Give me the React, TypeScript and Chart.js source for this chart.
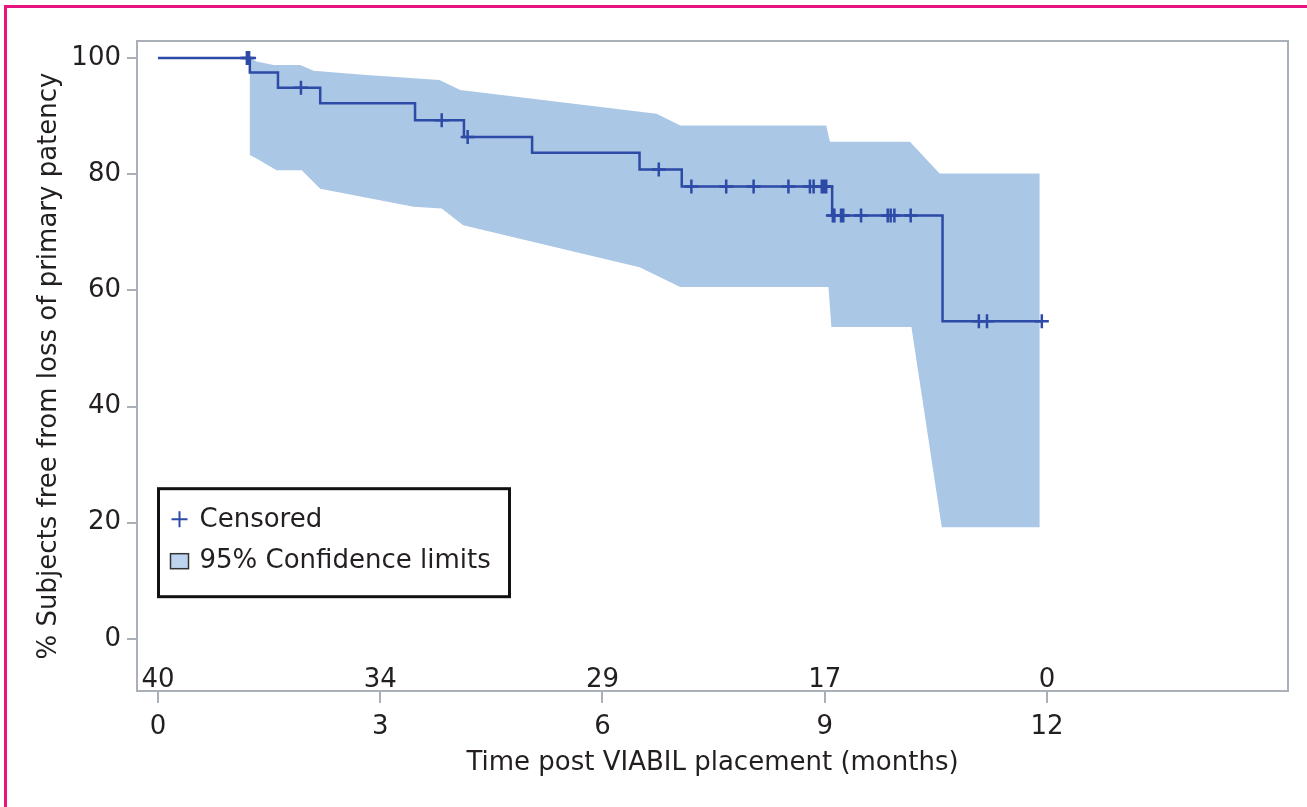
import { useEffect, useRef } from 'react';
import { Chart, registerables } from 'chart.js';

Chart.register(...registerables);

// Kaplan-Meier step curve (time in months, % free from loss of primary patency)
const stepTimes = [0, 1.24, 1.62, 2.19, 3.47, 4.13, 5.05, 6.5, 7.07, 9.1, 10.59, 11.93];
const stepValues = [100, 97.5, 94.9, 92.2, 89.3, 86.4, 83.7, 80.8, 77.9, 72.9, 54.7, 54.7];

// Censored observations
const censorTimes = [1.2, 1.23, 1.93, 3.83, 4.18, 6.76, 7.2, 7.67, 8.04, 8.51, 8.8, 8.85, 8.96, 8.99, 9.02, 9.11, 9.13, 9.22, 9.25, 9.49, 9.85, 9.89, 9.94, 10.16, 11.08, 11.19, 11.93];
const censorValues = [100, 100, 94.9, 89.3, 86.4, 80.8, 77.9, 77.9, 77.9, 77.9, 77.9, 77.9, 77.9, 77.9, 77.9, 72.9, 72.9, 72.9, 72.9, 72.9, 72.9, 72.9, 72.9, 72.9, 54.7, 54.7, 54.7];

// 95% confidence limits
const upperTimes = [1.24, 1.33, 1.56, 1.92, 2.1, 2.77, 3.8, 4.08, 6.73, 7.05, 9.02, 9.07, 10.15, 10.55, 11.9];
const upperValues = [100, 99.4, 98.8, 98.8, 97.8, 97.1, 96.2, 94.5, 90.4, 88.4, 88.4, 85.6, 85.6, 80.1, 80.1];
const lowerTimes = [1.24, 1.33, 1.6, 1.94, 2.19, 3.45, 3.83, 4.12, 6.5, 7.05, 9.05, 9.09, 10.17, 10.58, 11.9];
const lowerValues = [83.3, 82.7, 80.7, 80.7, 77.5, 74.4, 74.1, 71.2, 64.0, 60.6, 60.6, 53.7, 53.7, 19.2, 19.2];

// Numbers at risk
const riskTimes = [0, 3, 6, 9, 12];
const riskCounts = [40, 34, 29, 17, 0];

// Axis ticks
const xTicks = [0, 3, 6, 9, 12];
const yTicks = [0, 20, 40, 60, 80, 100];

const FONT = '"DejaVu Sans", "Liberation Sans", Arial, sans-serif';
const TEXT = '#231f20';
const LINE = '#2c4aa6';
const BAND = '#abc7e6';
const FRAME = '#a9b0b7';

const framePlugin = {
  id: 'frame',
  afterDraw(chart: any) {
    const { ctx, chartArea: a } = chart;
    ctx.save();
    ctx.strokeStyle = FRAME;
    ctx.lineWidth = 2;
    ctx.strokeRect(a.left, a.top, a.right - a.left, a.bottom - a.top);
    ctx.restore();
  },
};

const riskPlugin = {
  id: 'atRisk',
  afterDraw(chart: any) {
    const { ctx, chartArea: a, scales } = chart;
    ctx.save();
    ctx.font = `26px ${FONT}`;
    ctx.fillStyle = TEXT;
    ctx.textAlign = 'center';
    ctx.textBaseline = 'alphabetic';
    riskTimes.forEach((t, i) => {
      ctx.fillText(String(riskCounts[i]), scales.x.getPixelForValue(t), a.bottom - 4);
    });
    ctx.restore();
  },
};

const legendPlugin = {
  id: 'kmLegend',
  afterDraw(chart: any) {
    const { ctx, chartArea: a } = chart;
    const x0 = a.left + 21.5;
    const y0 = a.bottom - 202.3;
    ctx.save();
    ctx.strokeStyle = '#111';
    ctx.lineWidth = 3;
    ctx.strokeRect(x0, y0, 351, 108);
    // censored symbol
    ctx.strokeStyle = LINE;
    ctx.lineWidth = 2;
    const cx = x0 + 21, cy = y0 + 30.5;
    ctx.beginPath();
    ctx.moveTo(cx - 8, cy);
    ctx.lineTo(cx + 8, cy);
    ctx.moveTo(cx, cy - 8);
    ctx.lineTo(cx, cy + 8);
    ctx.stroke();
    // band symbol
    ctx.fillStyle = '#bcd4ee';
    ctx.fillRect(x0 + 12, y0 + 65, 18, 15);
    ctx.strokeStyle = '#333';
    ctx.lineWidth = 1.5;
    ctx.strokeRect(x0 + 12, y0 + 65, 18, 15);
    ctx.font = `26px ${FONT}`;
    ctx.fillStyle = TEXT;
    ctx.textAlign = 'left';
    ctx.textBaseline = 'alphabetic';
    ctx.fillText('Censored', x0 + 41, y0 + 38);
    ctx.fillText('95% Confidence limits', x0 + 41, y0 + 79.6);
    ctx.restore();
  },
};

export default function App() {
  const ref = useRef<HTMLCanvasElement>(null);

  useEffect(() => {
    const canvas = ref.current;
    if (!canvas) return;
    const kmPts = stepTimes.map((t, i) => ({ x: t, y: stepValues[i] }));
    const censorPts = censorTimes.map((t, i) => ({ x: t, y: censorValues[i] }));
    const bandPts = [
      ...upperTimes.map((t, i) => ({ x: t, y: upperValues[i] })),
      ...lowerTimes.map((t, i) => ({ x: t, y: lowerValues[i] })).reverse(),
    ];

    const chart = new Chart(canvas, {
      type: 'line',
      data: {
        datasets: [
          {
            label: 'Censored',
            data: censorPts,
            showLine: false,
            pointStyle: 'cross',
            pointRadius: 7,
            pointBorderWidth: 2.5,
            borderColor: LINE,
            pointBorderColor: LINE,
            backgroundColor: LINE,
            order: 1,
          } as any,
          {
            label: 'Survival',
            data: kmPts,
            stepped: 'before',
            borderColor: LINE,
            borderWidth: 2.5,
            pointRadius: 0,
            fill: false,
            order: 2,
          } as any,
          {
            label: '95% Confidence limits',
            data: bandPts,
            borderColor: 'rgba(0,0,0,0)',
            borderWidth: 0,
            pointRadius: 0,
            fill: 'shape',
            backgroundColor: BAND,
            order: 3,
          } as any,
        ],
      },
      options: {
        animation: false,
        responsive: false,
        maintainAspectRatio: false,
        events: [],
        layout: { padding: { top: 41, right: 19, left: 0, bottom: 0 } },
        plugins: {
          legend: { display: false },
          tooltip: { enabled: false },
        },
        scales: {
          x: {
            type: 'linear',
            min: -0.283,
            max: 15.253,
            afterBuildTicks: (s: any) => {
              s.ticks = xTicks.map((v) => ({ value: v }));
            },
            afterFit: (s: any) => {
              s.height = 116;
            },
            grid: { drawOnChartArea: false, drawTicks: true, tickLength: 12, color: FRAME, lineWidth: 2 },
            border: { display: false },
            ticks: { font: { family: FONT, size: 26 }, color: TEXT, padding: 9, maxRotation: 0, autoSkip: false },
            title: {
              display: true,
              text: 'Time post VIABIL placement (months)',
              font: { family: FONT, size: 26 },
              color: TEXT,
              padding: { top: 0, bottom: 28 },
            },
          },
          y: {
            type: 'linear',
            min: -8.97,
            max: 102.93,
            afterBuildTicks: (s: any) => {
              s.ticks = yTicks.map((v) => ({ value: v }));
            },
            afterFit: (s: any) => {
              s.width = 137;
            },
            grid: { drawOnChartArea: false, drawTicks: true, tickLength: 10, color: FRAME, lineWidth: 2 },
            border: { display: false },
            ticks: { font: { family: FONT, size: 26 }, color: TEXT, padding: 6 },
            title: {
              display: true,
              text: '% Subjects free from loss of primary patency',
              font: { family: FONT, size: 26 },
              color: TEXT,
              padding: { top: 34, bottom: 0 },
            },
          },
        },
      } as any,
      plugins: [framePlugin, riskPlugin, legendPlugin],
    });
    return () => chart.destroy();
  }, []);

  return (
    <div style={{ position: 'absolute', left: 0, top: 0, width: 1307, height: 807, overflow: 'hidden', background: '#fff' }}>
      <div
        style={{
          position: 'absolute',
          left: 4,
          top: 5,
          right: 0,
          bottom: 0,
          borderLeft: '3px solid #e8147f',
          borderTop: '3px solid #e8147f',
        }}
      />
      <canvas ref={ref} width={1307} height={807} style={{ position: 'absolute', left: 0, top: 0, width: 1307, height: 807 }} />
    </div>
  );
}
